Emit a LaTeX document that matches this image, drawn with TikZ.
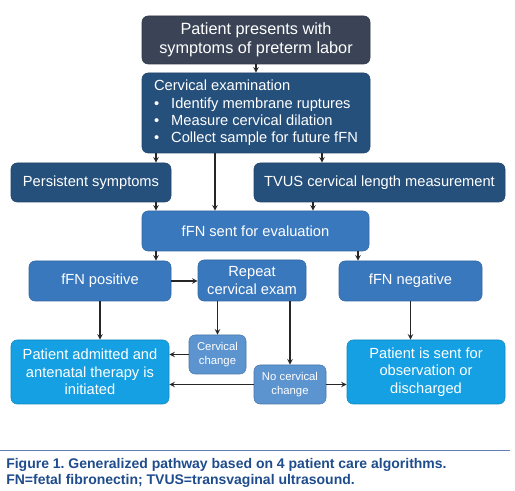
\documentclass[tikz,border=0pt]{standalone}
\usepackage{fontspec}
\setmainfont{Liberation Sans}
\usetikzlibrary{arrows}
\frenchspacing
\definecolor{slate}{RGB}{58,68,86}
\definecolor{navy}{RGB}{38,80,124}
\definecolor{midblue}{RGB}{58,120,190}
\definecolor{lightblue}{RGB}{92,148,208}
\definecolor{cyanblue}{RGB}{20,160,226}
\definecolor{capblue}{RGB}{30,76,140}
\definecolor{ruleblue}{RGB}{100,128,180}

\tikzset{
    box/.style={rounded corners=4.5pt, text=white, inner sep=0pt, align=center,
        font=\fontsize{11}{13}\selectfont},
    topbox/.style={box, fill=slate, draw=slate!80!black, font=\fontsize{12.2}{14.3}\selectfont},
    darkbox/.style={box, fill=navy, draw=navy!85!black},
    midbox/.style={box, fill=midblue, draw=midblue!85!black},
    smallbox/.style={box, fill=lightblue, draw=lightblue!80!black, font=\fontsize{8.5}{10.5}\selectfont},
    endbox/.style={box, fill=cyanblue, draw=cyanblue!85!black},
    link/.style={->, line width=0.9pt, black!85}
}

\begin{document}
\begin{tikzpicture}[>=stealth, x=0.75pt, y=-0.75pt]
    \useasboundingbox (0,0) rectangle (515,491);

    \draw (256,40) node[topbox, minimum width=171pt, minimum height=36pt] (patient) {Patient presents with\\symptoms of preterm labor};
    \draw (256,113) node[darkbox, minimum width=171pt, minimum height=60pt, align=left] (exam)
        {Cervical examination\\
         \textbullet\hspace{9pt}Identify membrane ruptures\\
         \textbullet\hspace{9pt}Measure cervical dilation\\
         \textbullet\hspace{9pt}Collect sample for future fFN};

    \draw (91,182.5) node[darkbox, minimum width=120pt, minimum height=29.25pt] (persist) {Persistent symptoms};
    \draw (379.5,182.5) node[darkbox, minimum width=188.25pt, minimum height=29.25pt] (tvus) {TVUS cervical length measurement};

    \draw (255.5,231) node[midbox, minimum width=170.25pt, minimum height=30pt] (sent) {fFN sent for evaluation};

    \draw (100,281) node[midbox, minimum width=106.5pt, minimum height=30pt] (positive) {fFN positive};
    \draw (252,280.5) node[midbox, minimum width=81pt, minimum height=30.75pt] (repeat) {Repeat\\cervical exam};
    \draw (410.5,281) node[midbox, minimum width=107.25pt, minimum height=30pt] (negative) {fFN negative};

    \draw (217.5,354.5) node[smallbox, minimum width=42.75pt, minimum height=29.25pt] (change) {Cervical\\change};
    \draw (290,384.5) node[smallbox, minimum width=54pt, minimum height=29.25pt] (nochange) {No cervical\\change};

    \draw (90,372) node[endbox, minimum width=118.5pt, minimum height=48pt] (admit) {Patient admitted and\\antenatal therapy is\\initiated};
    \draw (426,372) node[endbox, minimum width=118.5pt, minimum height=48pt] (observe) {Patient is sent for\\observation or\\discharged};

    % arrow columns
    \coordinate (colA) at (156,0);
    \coordinate (colB) at (215,0);
    \coordinate (colC) at (322,0);
    \coordinate (colD) at (313,0);
    \coordinate (colE) at (358,0);

    \draw[link] (patient) -- (exam);
    \draw[link] (exam.south -| colA) -- (persist.north -| colA);
    \draw[link] (exam.south -| colB) -- (sent.north -| colB);
    \draw[link] (exam.south -| colC) -- (tvus.north -| colC);
    \draw[link] (persist.south -| colA) -- (sent.north -| colA);
    \draw[link] (tvus.south -| colD) -- (sent.north -| colD);
    \draw[link] (sent.south -| colA) -- (positive.north -| colA);
    \draw[link] (sent.south -| colE) -- (negative.north -| colE);

    \draw[link] (positive.east) -- (repeat.west |- positive.east);
    \draw[link] (positive.south) -- (admit.north -| positive.south);
    \draw[link] (change.north |- repeat.south) -- (change.north);
    \draw[link] (nochange.north |- repeat.south) -- (nochange.north);
    \draw[link] (negative.south) -- (observe.north -| negative.south);

    \draw[link] (change.west) -- (admit.east |- change.west);
    \draw[link] (nochange.west) -- (admit.east |- nochange.west);
    \draw[link] (nochange.east) -- (observe.west |- nochange.east);

    % caption
    \draw[ruleblue, line width=0.75pt] (0,451) -- (510,451);
    \node[anchor=north west, inner sep=0pt, align=left, text=capblue,
        font=\bfseries\fontsize{10.5}{12}\selectfont] (caption) at (6,458)
        {Figure 1. Generalized pathway based on 4 patient care algorithms.\\FN=fetal fibronectin; TVUS=transvaginal ultrasound.};
\end{tikzpicture}
\end{document}
